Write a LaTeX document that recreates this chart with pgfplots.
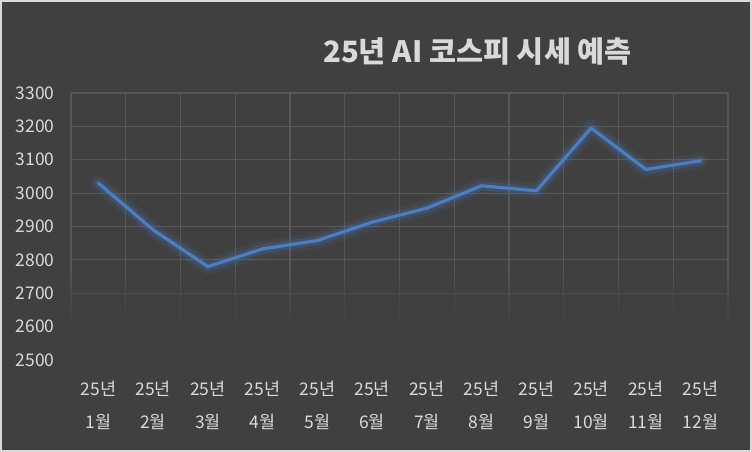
\documentclass[border=0pt]{standalone}
\usepackage{fontspec}
\setmainfont{Noto Sans CJK KR}
\usepackage{pgfplots}
\pgfplotsset{compat=1.18}
\definecolor{bg}{HTML}{404040}
\definecolor{gridc}{HTML}{585858}
\definecolor{txt}{HTML}{D9D9D9}
\definecolor{lineblue}{HTML}{4A7EC4}
\begin{document}
\begin{tikzpicture}
\fill[bg, draw=txt, line width=2bp] (1bp,1bp) rectangle (751bp,451bp);
\node[font=\bfseries\fontsize{29.5}{33}\selectfont, text=txt] at (477.5bp,400bp) {25년 AI 코스피 시세 예측};
\begin{axis}[at={(71bp,92bp)}, anchor=south west, scale only axis, width=657bp, height=267bp,
 xmin=-0.5, xmax=11.5, ymin=2500, ymax=3300,
 axis line style={draw=none}, tick style={draw=none},
 ytick={2500,2600,...,3300},
 xtick={0,...,11},
 xticklabels={{25년\\1월},{25년\\2월},{25년\\3월},{25년\\4월},{25년\\5월},{25년\\6월},{25년\\7월},{25년\\8월},{25년\\9월},{25년\\10월},{25년\\11월},{25년\\12월}},
 minor xtick={-0.5,0.5,...,11.5},
 xmajorgrids=false, xminorgrids=true, ymajorgrids=true,
 grid style={gridc, line width=1.2bp},
 minor grid style={gridc, line width=1.2bp},
 tick label style={text=txt, font=\fontsize{17.5}{33}\selectfont},
 xticklabel style={align=center, yshift=-18bp},
 yticklabel style={xshift=-13bp},
 /pgf/number format/assume math mode=true, /pgf/number format/1000 sep={},
 clip=false,
]
\foreach \a/\b/\o in {2490/2780/0.12,2490/2750/0.18,2490/2720/0.24,2490/2690/0.3,2490/2660/0.36,2490/2630/0.42,2490/2600/0.5,2490/2570/0.6,2490/2540/0.75}{
 \edef\tmp{\noexpand\fill[bg, opacity=\o] (axis cs:-0.6,\a) rectangle (axis cs:11.6,\b);}\tmp
}
\addplot[forget plot, lineblue, opacity=0.1, line width=16bp, line join=round, line cap=round] coordinates {(0,3030)(1,2890)(2,2780)(3,2833)(4,2858)(5,2913)(6,2955)(7,3022)(8,3007)(9,3195)(10,3071)(11,3097)};
\addplot[forget plot, lineblue, opacity=0.18, line width=9bp, line join=round, line cap=round] coordinates {(0,3030)(1,2890)(2,2780)(3,2833)(4,2858)(5,2913)(6,2955)(7,3022)(8,3007)(9,3195)(10,3071)(11,3097)};
\addplot[lineblue, line width=3.2bp, line join=round, line cap=round] coordinates {(0,3030)(1,2890)(2,2780)(3,2833)(4,2858)(5,2913)(6,2955)(7,3022)(8,3007)(9,3195)(10,3071)(11,3097)};
\end{axis}
\end{tikzpicture}
\end{document}
